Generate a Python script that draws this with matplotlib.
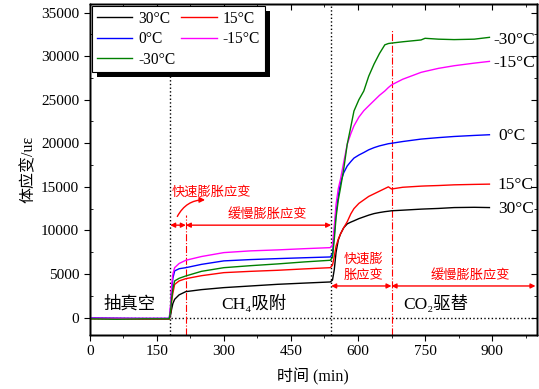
import matplotlib
matplotlib.use("Agg")
import matplotlib.pyplot as plt
from matplotlib.patches import Rectangle
from matplotlib.transforms import IdentityTransform
from matplotlib.ticker import MultipleLocator

plt.rcParams['font.family'] = ['Liberation Serif', 'DejaVu Serif', 'Noto Sans CJK SC']

# ---------------- data ----------------
t = [0, 60, 120, 178, 181, 183, 186, 190, 200, 215, 250, 300, 360, 420, 480, 538,
     543, 547, 551, 556, 561, 568, 576, 584, 591, 602, 613, 624, 636, 648, 660, 668, 675, 700, 741, 750, 780, 815, 860, 894]

s30 = [-100, -120, -150, -150, 300, 900, 1600, 2090, 2600, 2970, 3200, 3430, 3620, 3810, 3950, 4080,
       4300, 5500, 7500, 8900, 9600, 10300, 10750, 10950, 11100, 11350, 11550, 11750, 11930, 12050, 12150, 12200, 12250, 12320, 12440, 12460, 12520, 12620, 12650, 12620]
s15 = [-150, -150, -180, -180, 600, 1800, 2800, 3800, 4200, 4460, 4800, 5150, 5300, 5420, 5580, 5720,
       6000, 7000, 8200, 9000, 9600, 10300, 11000, 11900, 12500, 13100, 13500, 13900, 14200, 14500, 14800, 15000, 14750, 14950, 15080, 15100, 15150, 15230, 15280, 15310]
s0 = [-50, -80, -100, -100, 1200, 3000, 4500, 5350, 5600, 5720, 6100, 6500, 6650, 6760, 6860, 6950,
      7300, 9500, 12000, 14000, 15500, 16600, 17400, 17900, 18300, 18650, 18940, 19250, 19500, 19700, 19850, 19950, 20000, 20200, 20480, 20520, 20650, 20780, 20900, 20980]
sm15 = [-80, -90, -100, -100, 1500, 3500, 5000, 5720, 6200, 6570, 7000, 7450, 7650, 7760, 7900, 8020,
        8300, 10500, 13000, 14800, 15900, 17800, 19900, 21100, 22000, 23000, 23740, 24300, 24900, 25500, 26000, 26400, 26700, 27350, 28140, 28250, 28600, 28900, 29200, 29400]
sm30 = [-150, -200, -150, -150, 800, 2000, 3300, 4200, 4500, 4770, 5300, 5720, 5950, 6150, 6380, 6570,
        6900, 9000, 11500, 13500, 14900, 17000, 19900, 21900, 23700, 25000, 26000, 27700, 29100, 30300, 31300, 31450, 31500, 31650, 31860, 32050, 31950, 31900, 31950, 32160]

series = [("30°C", s30, "black"), ("15°C", s15, "red"), ("0°C", s0, "blue"),
          ("-15°C", sm15, "magenta"), ("-30°C", sm30, "green")]
end_labels = ["30°C", "15°C", "0°C", "-15°C", "-30°C"]
end_y = [12450, 15200, 20850, 29250, 31800]

stage_lines = [180, 540]
rapid_ends = [215, 675]

# ---------------- figure ----------------
fig = plt.figure(figsize=(5.39, 3.89), dpi=100)
ax = fig.add_axes([0.1664, 0.139, 0.8296, 0.851])

handles = {}
for name, vals, col in series:
    h, = ax.plot(t, vals, color=col, lw=1.0, label=name, zorder=3)
    handles[name] = h

ax.set_xlim(0, 1000)
ax.set_ylim(-2000, 36000)
ax.xaxis.set_major_locator(MultipleLocator(150))
ax.xaxis.set_minor_locator(MultipleLocator(75))
ax.yaxis.set_major_locator(MultipleLocator(5000))
ax.yaxis.set_minor_locator(MultipleLocator(2500))
ax.set_xticks([0, 150, 300, 450, 600, 750, 900])

ax.tick_params(axis='x', which='major', direction='out', length=4, labelsize=11, top=False)
ax.tick_params(axis='x', which='minor', direction='out', length=2.5, top=False)
ax.tick_params(axis='y', which='major', direction='out', length=4, labelsize=11)
ax.tick_params(axis='y', which='minor', direction='in', length=2.5)
ax.tick_params(which='both', right=False)
# right side ticks inward
ay2 = ax.twinx()
ay2.set_ylim(ax.get_ylim())
ay2.yaxis.set_major_locator(MultipleLocator(5000))
ay2.yaxis.set_minor_locator(MultipleLocator(2500))
ay2.tick_params(axis='y', which='major', direction='in', length=4, labelright=False)
ay2.tick_params(axis='y', which='minor', direction='in', length=2.5)
ax2 = ax.twiny()
ax2.set_xlim(ax.get_xlim())
ax2.xaxis.set_major_locator(MultipleLocator(150))
ax2.xaxis.set_minor_locator(MultipleLocator(75))
ax2.tick_params(axis='x', which='major', direction='in', length=4, labeltop=False)
ax2.tick_params(axis='x', which='minor', direction='in', length=2.5)
for a in (ax, ay2, ax2):
    for sp in a.spines.values():
        sp.set_linewidth(1.0)

ax.set_xlabel("时间 (min)", fontsize=11.5, labelpad=7)
ax.set_ylabel("体应变/uε", fontsize=11.5, labelpad=3)

# reference lines
ax.axhline(0, color='black', ls=':', lw=1.0, zorder=2)
for x in stage_lines:
    ax.axvline(x, color='black', ls=':', lw=1.0, zorder=2)
ax.plot([rapid_ends[0], rapid_ends[0]], [-2000, 11800], color='red', ls='-.', lw=0.8, zorder=2)
ax.plot([rapid_ends[1], rapid_ends[1]], [-2000, 33000], color='red', ls='-.', lw=0.8, zorder=2)

# end labels
for lab, y in zip(end_labels, end_y):
    xx = 903 if lab.startswith('-') else 913
    ax.text(xx, y, lab, fontsize=12.5, ha='left', va='center')

# arrows
ap = dict(arrowstyle='<|-|>', color='red', lw=1.0, mutation_scale=7, shrinkA=0, shrinkB=0)
ya = 10600
ax.annotate('', xy=(stage_lines[0], ya), xytext=(rapid_ends[0], ya), arrowprops=ap)
ax.annotate('', xy=(rapid_ends[0], ya), xytext=(stage_lines[1], ya), arrowprops=ap)
yb = 3620
ax.annotate('', xy=(stage_lines[1], yb), xytext=(rapid_ends[1], yb), arrowprops=ap)
ax.annotate('', xy=(rapid_ends[1], yb), xytext=(997, yb), arrowprops=ap)
ax.annotate('', xy=(258, 13500), xytext=(196, 11600),
            arrowprops=dict(arrowstyle='-|>', color='red', lw=1.0, mutation_scale=8,
                            connectionstyle='arc3,rad=-0.3', shrinkA=0, shrinkB=0))

red_fs = 9.5
ax.text(184, 14400, "快速膨胀应变", color='red', fontsize=red_fs, ha='left', va='center')
ax.text(397, 11900, "缓慢膨胀应变", color='red', fontsize=red_fs, ha='center', va='center')
ax.text(613, 5700, "快速膨\n胀应变", color='red', fontsize=red_fs, ha='center', va='center',
        linespacing=1.4)
ax.text(852, 4800, "缓慢膨胀应变", color='red', fontsize=red_fs, ha='center', va='center')

ax.text(90, 1450, "抽真空", fontsize=12.5, ha='center', va='center')
ax.text(367, 1600, "CH₄吸附", fontsize=12.5, ha='center', va='center')
ax.text(775, 1500, "CO₂驱替", fontsize=12.5, ha='center', va='center')

# legend
order = ["30°C", "0°C", "-30°C", "15°C", "-15°C"]
leg = ax.legend([handles[k] for k in order], order, loc='upper left', ncol=2,
                bbox_to_anchor=(0.0, 1.0), borderaxespad=0.15, fancybox=False,
                edgecolor='black', framealpha=1, fontsize=11.2, handlelength=2.3,
                columnspacing=0.4, handletextpad=0.35, labelspacing=0.28,
                borderpad=0.3)
leg.get_frame().set_linewidth(0.8)
leg.set_zorder(6)
ax.get_legend().remove()
ax2.add_artist(leg)

fig.canvas.draw()
bb = leg.get_window_extent()
shadow = Rectangle((bb.x0 + 5, bb.y0 - 5), bb.width, bb.height, transform=IdentityTransform(),
                   facecolor='black', edgecolor='none', zorder=5)
ax2.add_artist(shadow)

fig.savefig("out.png", dpi=100)
